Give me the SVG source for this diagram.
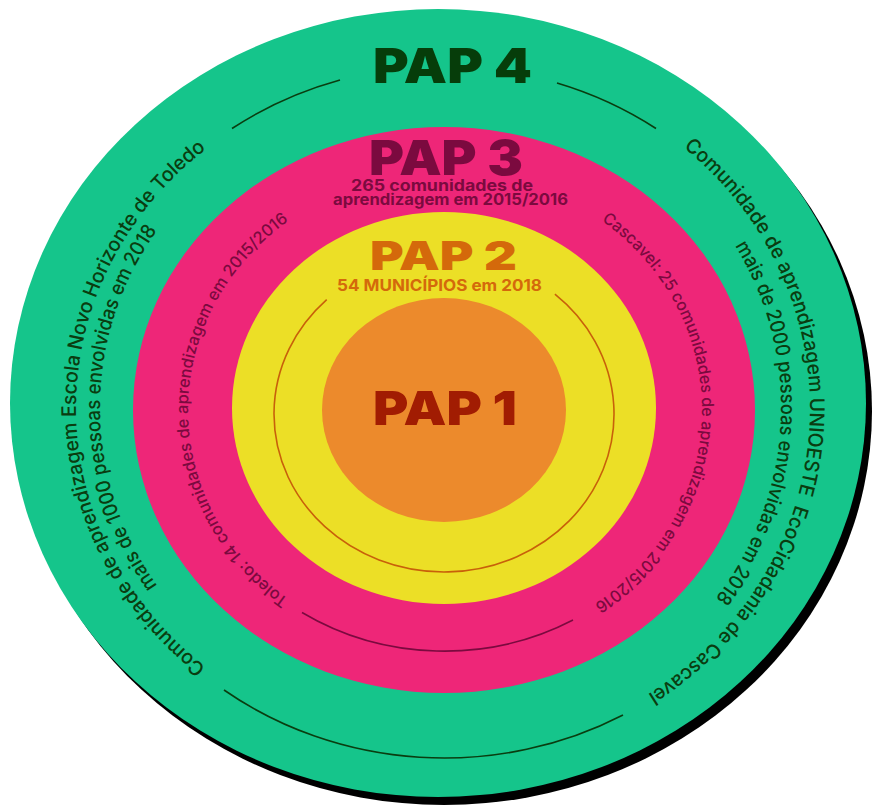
<svg xmlns="http://www.w3.org/2000/svg" width="873" height="809" viewBox="0 0 873 809">
  <style>
    .head { font-family: Inter, "Noto Sans", "DejaVu Sans", sans-serif; font-weight: 900; text-anchor: middle; }
    .sub { font-family: Inter, "Noto Sans", "DejaVu Sans", sans-serif; font-weight: 700; text-anchor: middle; }
    .ring { font-family: Inter, "Noto Sans", "DejaVu Sans", sans-serif; font-weight: 500; text-anchor: middle; }
    .g-txt { fill: #0a3d10; font-size: 20px; }
    .p-txt { fill: #7b0a3f; font-size: 16.5px; }
    .arc { fill: none; stroke-width: 1.6; }
  </style>
  <defs>
    <!-- baselines for curved labels, all running clockwise -->
    <path id="g-left-outer" d="M 258,700.7 A 364 338 0 0 1 258,115.3"/>
    <path id="g-left-inner" d="M 199.6,634.3 A 340 320 0 0 1 199.6,181.7"/>
    <path id="g-right-outer" d="M 642.9,118.7 A 367 345 0 0 1 603.9,718.1"/>
    <path id="g-right-inner" d="M 694.2,192.5 A 338 322 0 0 1 669.2,647.3"/>
    <path id="p-left" d="M 316,616.1 A 256 238 0 0 1 316,203.9"/>
    <path id="p-right" d="M 576.9,205.1 A 258 239 0 0 1 569.1,619"/>
  </defs>

  <rect width="873" height="809" fill="#ffffff"/>

  <!-- outer ring: PAP 4 -->
  <g id="pap4">
    <ellipse cx="444" cy="411" rx="428" ry="394" fill="#000000"/>
    <ellipse cx="438" cy="403" rx="428" ry="394" fill="#15c58b"/>
    <text class="head" x="452.5" y="83" font-size="48" fill="#063d0a" textLength="159" lengthAdjust="spacingAndGlyphs">PAP 4</text>
    <text class="ring g-txt"><textPath href="#g-left-outer" startOffset="50%" textLength="600" lengthAdjust="spacingAndGlyphs">Comunidade de aprendizagem Escola Novo Horizonte de Toledo</textPath></text>
    <text class="ring g-txt"><textPath href="#g-left-inner" startOffset="50%" textLength="379" lengthAdjust="spacingAndGlyphs">mais de 1000 pessoas envolvidas em 2018</textPath></text>
    <text class="ring g-txt" xml:space="preserve"><textPath href="#g-right-outer" startOffset="50%" textLength="643" lengthAdjust="spacingAndGlyphs">Comunidade de aprendizagem UNIOESTE  EcoCidadania de Cascavel</textPath></text>
    <text class="ring g-txt"><textPath href="#g-right-inner" startOffset="50%" textLength="376" lengthAdjust="spacingAndGlyphs">mais de 2000 pessoas envolvidas em 2018</textPath></text>
  </g>

  <!-- PAP 3 ring -->
  <g id="pap3">
    <ellipse cx="444" cy="410" rx="311" ry="283" fill="#ee2678"/>
    <text class="head" x="446" y="175" font-size="48" fill="#7b0a3f" textLength="154" lengthAdjust="spacingAndGlyphs">PAP 3</text>
    <text class="sub" x="442" y="191" font-size="15.5" fill="#7b0a3f" textLength="182" lengthAdjust="spacingAndGlyphs">265 comunidades de</text>
    <text class="sub" x="450.5" y="205" font-size="15.5" fill="#7b0a3f" textLength="235" lengthAdjust="spacingAndGlyphs">aprendizagem em 2015/2016</text>
    <text class="ring p-txt"><textPath href="#p-left" startOffset="50%" textLength="445" lengthAdjust="spacingAndGlyphs">Toledo: 14 comunidades de aprendizagem em 2015/2016</textPath></text>
    <text class="ring p-txt"><textPath href="#p-right" startOffset="50%" textLength="454" lengthAdjust="spacingAndGlyphs">Cascavel: 25 comunidades de aprendizagem em 2015/2016</textPath></text>
  </g>

  <!-- PAP 2 ring -->
  <g id="pap2">
    <ellipse cx="444" cy="408" rx="212" ry="196" fill="#ecdf26"/>
    <text class="head" x="443.5" y="270" font-size="40" fill="#d4690b" textLength="147" lengthAdjust="spacingAndGlyphs">PAP 2</text>
    <text class="sub" x="439.5" y="291" font-size="16" fill="#d4690b" textLength="205" lengthAdjust="spacingAndGlyphs">54 MUNICÍPIOS em 2018</text>
  </g>

  <!-- core: PAP 1 -->
  <g id="pap1">
    <ellipse cx="444" cy="410" rx="122" ry="112" fill="#ec8a2c"/>
    <text class="head" x="445" y="425" font-size="47" fill="#a11c02" textLength="144" lengthAdjust="spacingAndGlyphs">PAP 1</text>
  </g>

  <!-- thin guide arcs inside the rings -->
  <g id="arcs">
    <path class="arc" stroke="#c8600a" d="M 554.9,294.2 A 170 158 0 1 1 326.7,299.6"/>
    <path class="arc" stroke="#7b0a3f" d="M 573,620 A 262 241 0 0 1 302,612.5"/>
    <path class="arc" stroke="#0a3d10" d="M 232,128.5 A 370 346 0 0 1 340,80"/>
    <path class="arc" stroke="#0a3d10" d="M 557,83 A 370 346 0 0 1 656,128.5"/>
    <path class="arc" stroke="#0a3d10" d="M 623,715 A 370 346 0 0 1 224,690"/>
  </g>
</svg>
